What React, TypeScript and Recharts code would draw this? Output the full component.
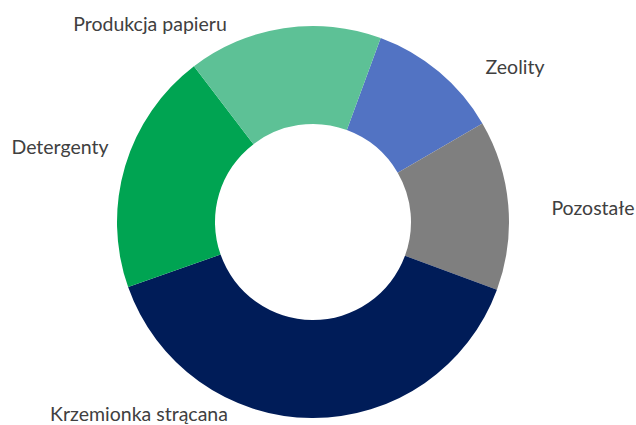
import { Cell, Pie, PieChart } from "recharts";

const categories = ["Zeolity", "Pozostałe", "Krzemionka strącana", "Detergenty", "Produkcja papieru"];
const shares = [11, 14, 39, 20, 16];
const colors = ["#5273C3", "#7F7F7F", "#001C58", "#00A452", "#5DC196"];

// label centres relative to the pie centre, as Excel laid them out
const labelOffsets: Record<string, [number, number]> = {
  Zeolity: [202, -156],
  "Pozostałe": [280, -15],
  "Krzemionka strącana": [-174, 191],
  Detergenty: [-253, -76],
  "Produkcja papieru": [-163, -199],
};

const data = categories.map((name, i) => ({ name, value: shares[i] }));

function renderLabel(props: any) {
  const { cx, cy, name } = props;
  const off = labelOffsets[name] ?? [0, 0];
  return (
    <text
      x={cx + off[0]}
      y={cy + off[1]}
      textAnchor="middle"
      dominantBaseline="central"
      fill="#404040"
      fontSize={19.5}
      fontFamily="Lato, 'Open Sans', sans-serif"
    >
      {name}
    </text>
  );
}

export default function App() {
  return (
    <div style={{ position: "absolute", left: 0, top: 0, width: 636, height: 425, background: "#fff" }}>
      <PieChart width={636} height={425} margin={{ top: 0, right: 0, bottom: 0, left: 0 }}>
        <Pie
          data={data}
          dataKey="value"
          nameKey="name"
          cx={313}
          cy={222}
          innerRadius={98}
          outerRadius={196}
          startAngle={69.8}
          endAngle={-290.2}
          stroke="none"
          label={renderLabel}
          labelLine={false}
          isAnimationActive={false}
        >
          {data.map((d, i) => (
            <Cell key={d.name} fill={colors[i]} />
          ))}
        </Pie>
      </PieChart>
    </div>
  );
}
